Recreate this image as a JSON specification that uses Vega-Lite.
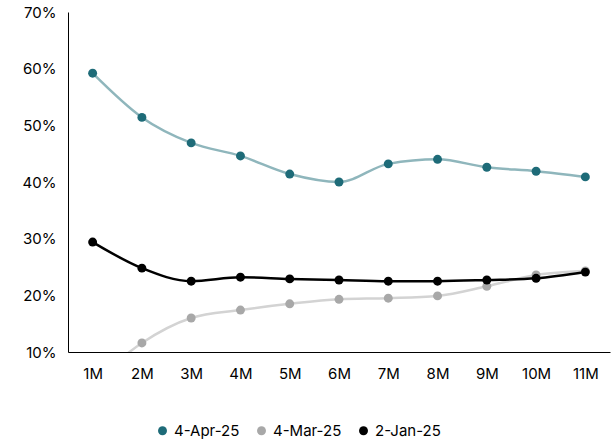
{
"$schema":"https://vega.github.io/schema/vega-lite/v6.json",
"width":542,"height":340,"autosize":{"type":"none"},
"padding":{"left":68,"right":6,"top":12,"bottom":93},
"config":{"view":{"stroke":null},"font":"Inter"},
"data":{"values":[
{"t":"1M","s":"4-Apr-25","v":59.2},{"t":"2M","s":"4-Apr-25","v":51.4},{"t":"3M","s":"4-Apr-25","v":46.9},{"t":"4M","s":"4-Apr-25","v":44.6},{"t":"5M","s":"4-Apr-25","v":41.4},{"t":"6M","s":"4-Apr-25","v":40.0},{"t":"7M","s":"4-Apr-25","v":43.2},{"t":"8M","s":"4-Apr-25","v":44.0},{"t":"9M","s":"4-Apr-25","v":42.6},{"t":"10M","s":"4-Apr-25","v":41.9},{"t":"11M","s":"4-Apr-25","v":40.9},
{"t":"1M","s":"4-Mar-25","v":4.5},{"t":"2M","s":"4-Mar-25","v":11.6},{"t":"3M","s":"4-Mar-25","v":16.0},{"t":"4M","s":"4-Mar-25","v":17.4},{"t":"5M","s":"4-Mar-25","v":18.5},{"t":"6M","s":"4-Mar-25","v":19.3},{"t":"7M","s":"4-Mar-25","v":19.5},{"t":"8M","s":"4-Mar-25","v":19.9},{"t":"9M","s":"4-Mar-25","v":21.6},{"t":"10M","s":"4-Mar-25","v":23.6},{"t":"11M","s":"4-Mar-25","v":24.3},
{"t":"1M","s":"2-Jan-25","v":29.4},{"t":"2M","s":"2-Jan-25","v":24.8},{"t":"3M","s":"2-Jan-25","v":22.5},{"t":"4M","s":"2-Jan-25","v":23.2},{"t":"5M","s":"2-Jan-25","v":22.9},{"t":"6M","s":"2-Jan-25","v":22.7},{"t":"7M","s":"2-Jan-25","v":22.5},{"t":"8M","s":"2-Jan-25","v":22.5},{"t":"9M","s":"2-Jan-25","v":22.7},{"t":"10M","s":"2-Jan-25","v":23.0},{"t":"11M","s":"2-Jan-25","v":24.1}
]},
"encoding":{
"x":{"field":"t","type":"ordinal","sort":null,"title":null,"scale":{"paddingOuter":0.25,"paddingInner":1},"axis":{"labelAngle":0,"ticks":false,"domainColor":"#000","labelFontSize":15,"labelColor":"#000","labelPadding":14}},
"y":{"field":"v","type":"quantitative","title":null,"scale":{"domain":[10,70]},"axis":{"grid":false,"ticks":false,"tickCount":7,"labelExpr":"datum.value+'%'","domainColor":"#000","labelFontSize":15,"labelColor":"#000","labelPadding":12}}
},
"layer":[
{"mark":{"type":"line","interpolate":"monotone","strokeWidth":2.5,"clip":true},
"encoding":{"color":{"field":"s","type":"nominal","scale":{"domain":["4-Apr-25","4-Mar-25","2-Jan-25"],"range":["#8fb6bc","#d3d3d3","#000000"]},"legend":null},"detail":{"field":"s"}}},
{"mark":{"type":"point","filled":true,"size":80,"opacity":1,"clip":true},
"encoding":{"color":{"field":"s","type":"nominal","scale":{"domain":["4-Apr-25","4-Mar-25","2-Jan-25"],"range":["#1e6b78","#a8a8a8","#000000"]},"legend":{"orient":"none","legendX":87,"legendY":411,"direction":"horizontal","title":null,"labelFontSize":15,"labelColor":"#000","symbolType":"circle","symbolSize":80,"columnPadding":14}}}}
],
"resolve":{"scale":{"color":"independent"}}
}
